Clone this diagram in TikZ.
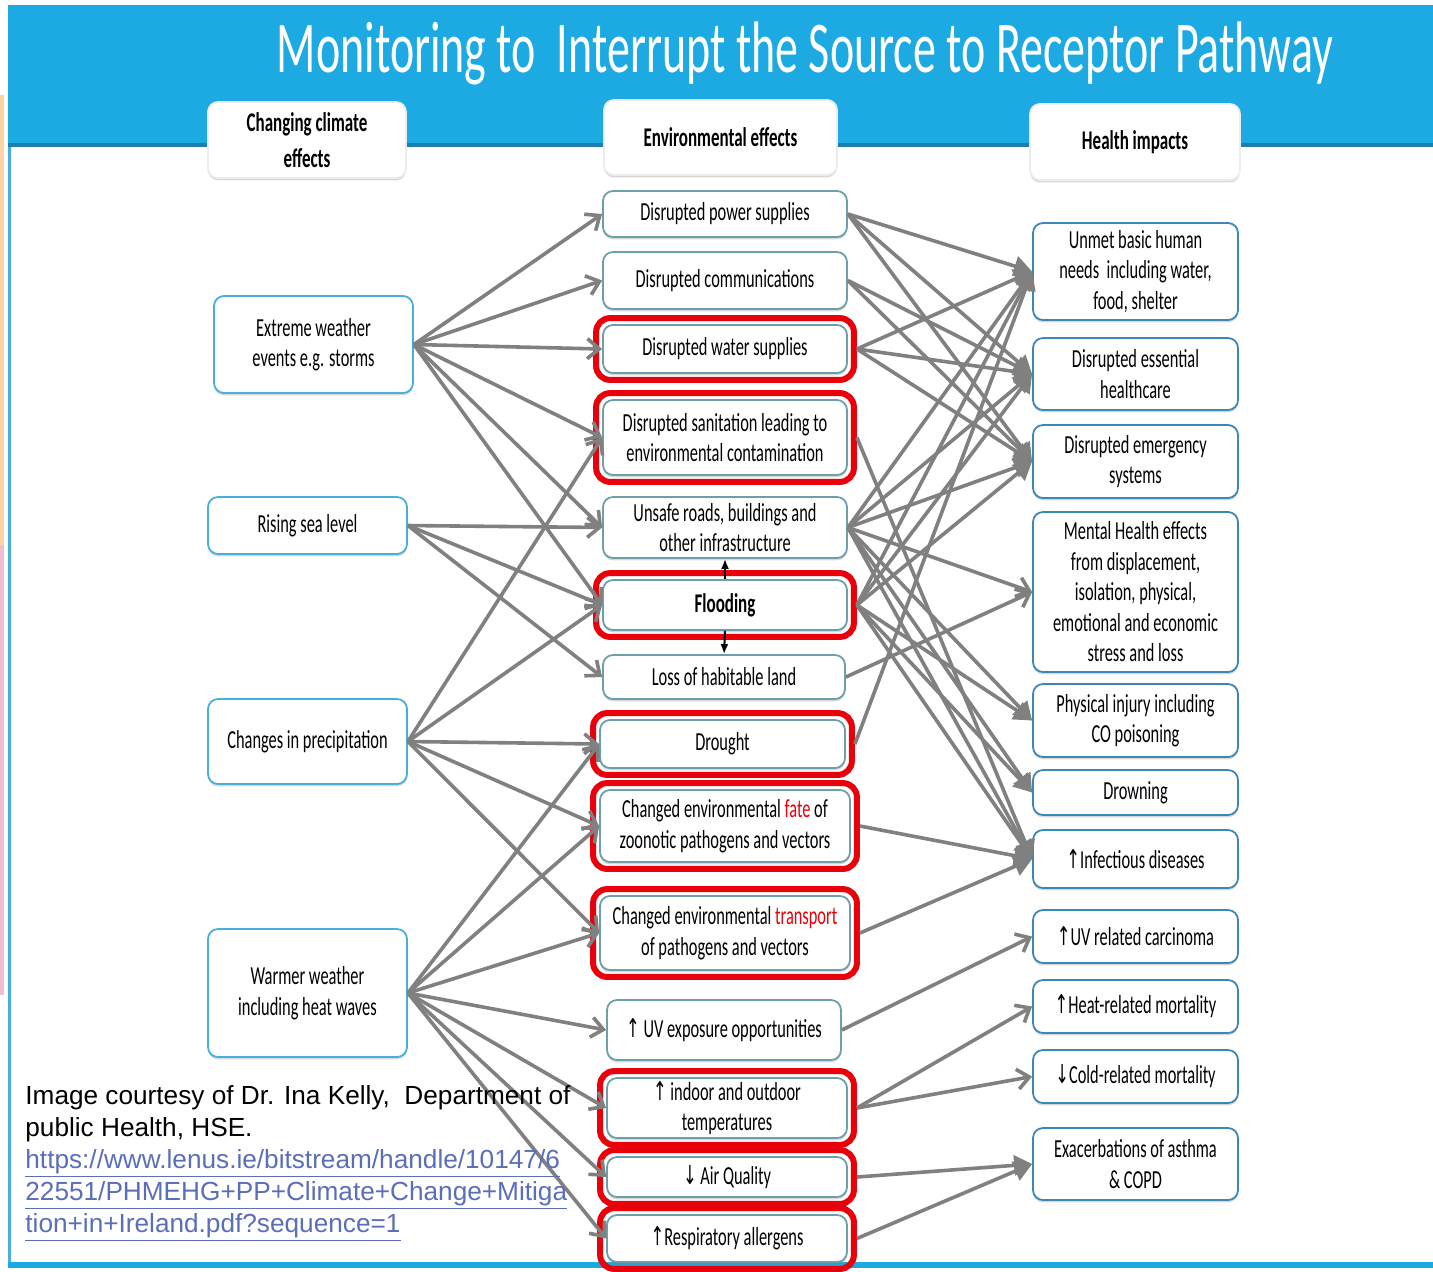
\documentclass[tikz,border=0pt]{standalone}
\usepackage{fontspec}
\setmainfont{Carlito}[FakeStretch=0.63]
\newfontfamily\notefont{Liberation Sans}
\newfontfamily\arrowfont{DejaVu Sans}[FakeStretch=0.63]
\usetikzlibrary{arrows.meta,shadows,fit}

\definecolor{bandblue}{RGB}{29,169,225}
\definecolor{banddark}{RGB}{30,125,175}
\definecolor{leftline}{RGB}{70,176,219}
\definecolor{midline}{RGB}{108,160,168}
\definecolor{rightline}{RGB}{60,134,184}
\definecolor{hilite}{RGB}{232,0,10}
\definecolor{flowgray}{RGB}{128,128,128}
\definecolor{linkblue}{RGB}{90,110,185}

\newcommand{\upar}{{\arrowfont ↑}}
\newcommand{\dnar}{{\arrowfont ↓}}

\begin{document}
\begin{tikzpicture}[x=0.5pt, y=-0.5pt,
	box/.style={draw, rounded corners=5pt, fill=white, line width=0.9pt, align=center, inner sep=1pt,
		font=\fontsize{13}{15.25}\selectfont,
		drop shadow={opacity=0.3, shadow xshift=0pt, shadow yshift=-1.2pt}},
	lbox/.style={box, draw=leftline, minimum width=99.5pt},
	mbox/.style={box, draw=midline, minimum width=122pt},
	rbox/.style={box, draw=rightline, minimum width=102.5pt},
	headbox/.style={box, draw=white!85!gray, font=\fontsize{13.5}{18}\selectfont\bfseries},
	redframe/.style={draw=hilite, line width=3pt, rounded corners=7pt, inner sep=3pt},
	flow/.style={draw=flowgray, line width=1.8pt, -{Straight Barb[length=6pt,width=10pt]}},
	flowfill/.style={draw=flowgray, line width=1.8pt, -{Triangle[length=9pt,width=10pt]}},
	vflow/.style={draw=black, line width=1pt, -{Latex[length=5pt,width=4pt]}}]

		\useasboundingbox (0,0) rectangle (1433,1271);

		\fill[white] (0,0) rectangle (1433,1271);
		\fill[bandblue] (8,5) rectangle (1433,143);
		\fill[banddark] (8,143) rectangle (1433,147);
		\fill[leftline] (8,147) rectangle (11,1268);
		\fill[bandblue] (8,1262) rectangle (1433,1268);
		\fill[orange!35] (0,95) rectangle (4,545);
		\fill[purple!25] (0,545) rectangle (4,995);

		\node[text=white, anchor=base, font=\fontsize{36.5}{40}\selectfont] (title) at (805,72)%
		{Monitoring to\ \ Interrupt the Source to Receptor Pathway};

		\node[headbox, minimum width=99pt, minimum height=38pt] (LH) at (307,140) {Changing climate\\effects};
		\node[headbox, minimum width=116.5pt, minimum height=37.5pt] (MH) at (720.5,137.5) {Environmental effects};
		\node[headbox, minimum width=105pt, minimum height=38pt] (RH) at (1135,142) {Health impacts};

		\node[lbox, minimum height=48.5pt] (L2) at (313.5,344.5) {Extreme weather\\events e.g. storms};
		\node[lbox, minimum height=28.5pt] (L3) at (307.5,525.5) {Rising sea level};
		\node[lbox, minimum height=42.5pt] (L4) at (307.5,741.5) {Changes in precipitation};
		\node[lbox, minimum height=64pt] (L5) at (307.5,993) {Warmer weather\\including heat waves};

		\node[mbox, minimum height=23pt] (M1) at (725,214) {Disrupted power supplies};
		\node[mbox, minimum height=28.5pt] (M2) at (725,280.5) {Disrupted communications};
		\node[mbox, minimum height=24pt] (M3) at (725,349) {Disrupted water supplies};
		\node[mbox, minimum height=37.5pt] (M4) at (725,437.5) {Disrupted sanitation leading to\\environmental contamination};
		\node[mbox, minimum height=30.5pt] (M5) at (725,527.5) {Unsafe roads, buildings and\\other infrastructure};
		\node[mbox, minimum height=25pt, font=\fontsize{13.5}{15.25}\selectfont\bfseries] (M6) at (725,605) {Flooding};
		\node[mbox, minimum width=121pt, minimum height=22pt] (M7) at (724,677) {Loss of habitable land};
		\node[mbox, minimum width=122.5pt, minimum height=24pt] (M8) at (722.5,744) {Drought};
		\node[mbox, minimum width=125pt, minimum height=36pt] (M9) at (725,826)%
		{Changed environmental \textcolor{hilite}{fate} of\\zoonotic pathogens and vectors};
		\node[mbox, minimum width=125pt, minimum height=37pt] (M10) at (725,933)%
		{Changed environmental \textcolor{hilite}{transport}\\of pathogens and vectors};
		\node[mbox, minimum width=117pt, minimum height=30pt] (M11) at (724,1030) {\upar\ UV exposure opportunities};
		\node[mbox, minimum width=120pt, minimum height=30pt] (M12) at (727,1108) {\upar\ indoor and outdoor\\temperatures};
		\node[mbox, minimum width=120pt, minimum height=20pt] (M13) at (727,1177) {\dnar\ Air Quality};
		\node[mbox, minimum width=120pt, minimum height=23.5pt] (M14) at (727,1238.5) {\upar Respiratory allergens};

		\node[redframe, fit=(M3)] (M3f) {};
		\node[redframe, fit=(M4)] (M4f) {};
		\node[redframe, fit=(M6)] (M6f) {};
		\node[redframe, fit=(M8)] (M8f) {};
		\node[redframe, fit=(M9)] (M9f) {};
		\node[redframe, fit=(M10)] (M10f) {};
		\node[redframe, fit=(M12)] (M12f) {};
		\node[redframe, fit=(M13)] (M13f) {};
		\node[redframe, fit=(M14)] (M14f) {};

		\node[rbox, minimum height=48.5pt] (R1) at (1135.5,271.5) {Unmet basic human\\needs\ \ including water,\\food, shelter};
		\node[rbox, minimum height=36pt] (R2) at (1135.5,374) {Disrupted essential\\healthcare};
		\node[rbox, minimum height=36.5pt] (R3) at (1135.5,461.5) {Disrupted emergency\\systems};
		\node[rbox, minimum height=80pt] (R4) at (1135.5,592)%
		{Mental Health effects\\from displacement,\\isolation, physical,\\emotional and economic\\stress and loss};
		\node[rbox, minimum height=36.5pt] (R5) at (1135.5,720.5) {Physical injury including\\CO poisoning};
		\node[rbox, minimum height=22.5pt] (R6) at (1135.5,792.5) {Drowning};
		\node[rbox, minimum height=29pt] (R7) at (1135.5,859) {\upar Infectious diseases};
		\node[rbox, minimum height=26.5pt] (R8) at (1135.5,936.5) {\upar UV related carcinoma};
		\node[rbox, minimum height=26.5pt] (R9) at (1135.5,1006.5) {\upar Heat-related mortality};
		\node[rbox, minimum height=26.5pt] (R10) at (1135.5,1076.5) {\dnar Cold-related mortality};
		\node[rbox, minimum height=36pt] (R11) at (1135.5,1164) {Exacerbations of asthma\\\& COPD};

		\draw[flow] (L2.east) -- (M1.west);
		\draw[flow] (L2.east) -- (M2.west);
		\draw[flow] (L2.east) -- (M3.west);
		\draw[flow] (L2.east) -- (M4.west);
		\draw[flow] (L2.east) -- (M5.west);
		\draw[flow] (L2.east) -- (M6.west);

		\draw[flow] (L3.east) -- (M5.west);
		\draw[flow] (L3.east) -- (M6.west);
		\draw[flow] (L3.east) -- (M7.west);

		\draw[flow] (L4.east) -- (M4.west);
		\draw[flow] (L4.east) -- (M6.west);
		\draw[flow] (L4.east) -- (M8.west);
		\draw[flow] (L4.east) -- (M9.west);
		\draw[flow] (L4.east) -- (M10.west);

		\draw[flow] (L5.east) -- (M8.west);
		\draw[flow] (L5.east) -- (M9.west);
		\draw[flow] (L5.east) -- (M10.west);
		\draw[flow] (L5.east) -- (M11.west);
		\draw[flow] (L5.east) -- (M12.west);
		\draw[flow] (L5.east) -- (M13.west);
		\draw[flow] (L5.east) -- (M14.west);

		\draw[flowfill] (M1.east) -- (R1.west);
		\draw[flowfill] (M1.east) -- (R2.west);
		\draw[flowfill] (M1.east) -- (R3.west);
		\draw[flowfill] (M2.east) -- (R2.west);
		\draw[flowfill] (M2.east) -- (R3.west);
		\draw[flowfill] (M3f.east) -- (R1.west);
		\draw[flowfill] (M3f.east) -- (R2.west);
		\draw[flowfill] (M3f.east) -- (R3.west);
		\draw[flowfill] (M4f.east) -- (R7.west);

		\draw[flowfill] (M5.east) -- (R1.west);
		\draw[flowfill] (M5.east) -- (R2.west);
		\draw[flowfill] (M5.east) -- (R3.west);
		\draw[flow] (M5.east) -- (R4.west);
		\draw[flowfill] (M5.east) -- (R5.west);
		\draw[flowfill] (M5.east) -- (R6.west);
		\draw[flowfill] (M5.east) -- (R7.west);

		\draw[flowfill] (M6f.east) -- (R1.west);
		\draw[flowfill] (M6f.east) -- (R2.west);
		\draw[flowfill] (M6f.east) -- (R3.west);
		\draw[flowfill] (M6f.east) -- (R5.west);
		\draw[flowfill] (M6f.east) -- (R6.west);
		\draw[flowfill] (M6f.east) -- (R7.west);

		\draw[flow] (M7.east) -- (R4.west);
		\draw[flowfill] (M8f.east) -- (R1.west);
		\draw[flowfill] (M9f.east) -- (R7.west);
		\draw[flowfill] (M10f.east) -- (R7.west);
		\draw[flow] (M11.east) -- (R8.west);
		\draw[flow] (M12f.east) -- (R9.west);
		\draw[flow] (M12f.east) -- (R10.west);
		\draw[flowfill] (M13f.east) -- (R11.west);
		\draw[flowfill] (M14f.east) -- (R11.west);

		\draw[vflow] (M6.north) -- (M5.south);
		\draw[vflow] (M6.south) -- (M7.north);

		\node[anchor=north west, align=left, inner sep=0pt, font=\notefont\fontsize{13.1}{16}\selectfont] (note) at (25,1085)%
		{Image courtesy of Dr. Ina Kelly,\ \ Department of\\ public Health, HSE.\\
		\textcolor{linkblue}{\underline{https://www.lenus.ie/bitstream/handle/10147/6}}\\
		\textcolor{linkblue}{\underline{22551/PHMEHG+PP+Climate+Change+Mitiga}}\\
		\textcolor{linkblue}{\underline{tion+in+Ireland.pdf?sequence=1}}};
	\end{tikzpicture}
\end{document}
